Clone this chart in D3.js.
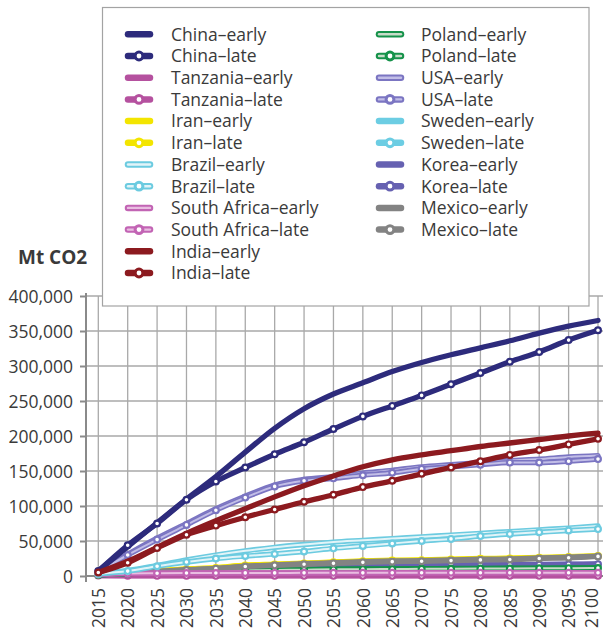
<!DOCTYPE html>
<html><head><meta charset="utf-8">
<script src="https://cdn.jsdelivr.net/npm/d3@7"></script>
<style>
body{margin:0;background:#fff;}
svg{display:block;}
text{font-family:"Open Sans",sans-serif;fill:#3a3a3a;}
</style>
</head><body>
<svg id="c" width="603" height="634"></svg>
<script>
// ---------- DATA ----------
const years = [2015,2020,2025,2030,2035,2040,2045,2050,2055,2060,2065,2070,2075,2080,2085,2090,2095,2100];
const yTicks = [0,50000,100000,150000,200000,250000,300000,350000,400000];

const chinaEarly = [7000,42000,76000,110000,142000,177000,211000,239000,260000,276000,292000,305000,316000,326000,336000,347000,357000,365000];
const chinaLate  = [7000,44000,75000,109000,135000,155000,174000,191000,210000,228000,243000,258000,274000,290000,306000,320000,337000,351000];
const tanzaniaEarly = [600,500,400,400,400,400,400,400,400,400,400,400,400,400,400,400,400,400];
const tanzaniaLate  = [600,300,200,200,200,200,200,200,200,200,200,200,200,200,200,200,200,200];
const iranEarly = [2500,5000,7500,10000,12000,15500,17000,18500,20000,21500,22500,23000,24000,25000,25500,26500,27500,29000];
const iranLate  = [2500,4800,7200,9800,11500,15000,16500,18000,19500,21000,22000,22500,23500,24500,25000,26000,27000,28500];
const brazilEarly = [3000,8000,15000,23000,30000,36000,41000,45000,48500,51000,53500,56000,58500,61000,63500,66000,68500,71500];
const brazilLate  = [3000,7000,14000,20000,25000,28500,31500,35000,39500,43000,46500,50000,53000,57000,60000,62500,65000,67000];
const southAfricaEarly = [2500,3800,4100,4300,4400,4500,4500,4600,4600,4600,4700,4700,4700,4700,4800,4800,4800,4800];
const southAfricaLate  = [2500,3700,4000,4200,4300,4400,4400,4500,4500,4500,4600,4600,4600,4600,4700,4700,4700,4700];
const indiaEarly = [5000,21000,41000,61000,79000,96000,113000,129000,143000,156000,166000,173000,179000,185000,190000,195000,200000,204000];
const indiaLate  = [5000,19000,40000,59000,72000,84000,95000,106000,116000,127000,136000,146000,155000,164000,173000,180000,188000,196000];
const polandEarly = [1800,3800,5300,6800,7800,8400,8900,9400,9800,10100,10300,10500,10700,10900,11100,11300,11500,11800];
const polandLate  = [1500,3500,5000,6500,7500,8000,8500,9000,9500,9800,10000,10200,10400,10600,10800,11000,11200,11500];
const usaEarly = [6000,31000,54000,75000,96000,114000,130000,138000,142000,147000,151000,156000,159000,162000,165000,167000,170000,172000];
const usaLate  = [6000,30000,52000,73000,94000,112000,128000,136000,139500,144000,147500,153000,156000,159000,162000,162000,164000,167000];
const swedenEarly = [2000,3000,3500,3800,4000,4100,4200,4200,4300,4300,4300,4400,4400,4400,4400,4500,4500,4500];
const swedenLate  = [2000,2900,3400,3700,3900,4000,4100,4100,4200,4200,4200,4300,4300,4300,4300,4400,4400,4400];
const koreaEarly = [1500,4000,6000,8000,9500,11000,12000,13000,13800,14400,14900,15300,15700,16000,16300,16600,16900,17200];
const koreaLate  = [1500,3800,5800,7800,9200,10700,11700,12700,13500,14100,14600,15000,15400,15700,16000,16300,16600,16900];
const mexicoEarly = [2000,4200,6500,9000,11000,14000,15800,17500,19000,20500,21500,22000,23000,24000,24500,25800,26800,28500];
const mexicoLate  = [2000,4000,6200,8600,10500,13500,15200,16700,18100,19500,20500,21000,22000,23000,23500,25000,26000,28000];

// ---------- SERIES STYLE ----------
const C = {china:"#2d2b7c", tanzania:"#b5519f", iran:"#f3e500", brazil:"#6ccbe0", sa:"#c264b4",
           india:"#8c1a1f", poland:"#15924a", usa:"#7b75c2", sweden:"#6ccde3", korea:"#6661b1", mexico:"#838383"};
const series = [
  {name:"China–early", vals:chinaEarly, color:C.china},
  {name:"China–late", vals:chinaLate, color:C.china, marker:true},
  {name:"Tanzania–early", vals:tanzaniaEarly, color:C.tanzania},
  {name:"Tanzania–late", vals:tanzaniaLate, color:C.tanzania, marker:true},
  {name:"Iran–early", vals:iranEarly, color:C.iran},
  {name:"Iran–late", vals:iranLate, color:C.iran, marker:true},
  {name:"Brazil–early", vals:brazilEarly, color:C.brazil, inner:"#e2f4f8"},
  {name:"Brazil–late", vals:brazilLate, color:C.brazil, inner:"#e2f4f8", marker:true},
  {name:"South Africa–early", vals:southAfricaEarly, color:C.sa, inner:"#e9bde1"},
  {name:"South Africa–late", vals:southAfricaLate, color:C.sa, inner:"#e9bde1", marker:true},
  {name:"India–early", vals:indiaEarly, color:C.india},
  {name:"India–late", vals:indiaLate, color:C.india, marker:true},
  {name:"Poland–early", vals:polandEarly, color:C.poland, inner:"#c8dcc8"},
  {name:"Poland–late", vals:polandLate, color:C.poland, inner:"#c8dcc8", marker:true},
  {name:"USA–early", vals:usaEarly, color:C.usa, inner:"#c2bee7"},
  {name:"USA–late", vals:usaLate, color:C.usa, inner:"#c2bee7", marker:true},
  {name:"Sweden–early", vals:swedenEarly, color:C.sweden},
  {name:"Sweden–late", vals:swedenLate, color:C.sweden, marker:true},
  {name:"Korea–early", vals:koreaEarly, color:C.korea},
  {name:"Korea–late", vals:koreaLate, color:C.korea, marker:true},
  {name:"Mexico–early", vals:mexicoEarly, color:C.mexico},
  {name:"Mexico–late", vals:mexicoLate, color:C.mexico, marker:true}
];
const drawOrder = ["Sweden–early","Sweden–late","Tanzania–early","Tanzania–late","Korea–early","Korea–late",
  "Poland–early","Poland–late","Iran–early","Iran–late","Mexico–early","Mexico–late",
  "South Africa–early","South Africa–late","Brazil–early","Brazil–late","USA–early","USA–late",
  "China–early","China–late","India–early","India–late"];

// ---------- SCALES ----------
const svg = d3.select("#c");
const x = d3.scalePoint().domain(years).range([98.3, 598]);
const y = d3.scaleLinear().domain([0,400000]).range([576, 296]);
const axisX = 86, plotRight = 603;

// gridlines
const g = svg.append("g");
g.selectAll("line.h").data(yTicks).join("line")
  .attr("x1", axisX).attr("x2", plotRight).attr("y1", d=>y(d)).attr("y2", d=>y(d))
  .attr("stroke","#a9a9a9").attr("stroke-width",1.3);
g.selectAll("line.v").data(years).join("line")
  .attr("x1", d=>x(d)).attr("x2", d=>x(d)).attr("y1", y(400000)).attr("y2", y(0))
  .attr("stroke","#a9a9a9").attr("stroke-width",1.3);

// axes via d3
const yAxis = d3.axisLeft(y).tickValues(yTicks).tickSize(6).tickFormat(d3.format(","));
const ya = svg.append("g").attr("transform",`translate(${axisX},0)`).call(yAxis);
ya.select(".domain").remove();
ya.selectAll(".tick line").attr("stroke","#8a8a8a").attr("stroke-width",2);
ya.selectAll(".tick text").attr("x",-13).attr("dy",null).attr("dominant-baseline",null)
  .attr("y",6.2).style("font-size","17.5px").style("font-family","'Open Sans',sans-serif").attr("fill","#3a3a3a");
svg.append("line").attr("x1",axisX).attr("x2",axisX).attr("y1",293).attr("y2",582)
  .attr("stroke","#8a8a8a").attr("stroke-width",2);

const xAxis = d3.axisBottom(x).tickSize(0);
const xa = svg.append("g").attr("transform",`translate(0,${y(0)})`).call(xAxis);
xa.select(".domain").remove();
xa.selectAll(".tick text")
  .attr("transform",(d)=>`translate(${d===2100?-1:6.2},12) rotate(-90)`).attr("y",0).attr("x",0).attr("dy",null)
  .attr("text-anchor","end").style("font-size","17.5px").style("font-family","'Open Sans',sans-serif").attr("fill","#3a3a3a");
svg.append("line").attr("x1",axisX-1).attr("x2",plotRight).attr("y1",y(0)).attr("y2",y(0))
  .attr("stroke","#8a8a8a").attr("stroke-width",2);

// lines
const line = d3.line().x((d,i)=>x(years[i])).y(d=>y(d)).curve(d3.curveMonotoneX);
const lg = svg.append("g");
drawOrder.forEach(nm=>{
  const s = series.find(t=>t.name===nm);
  lg.append("path").attr("d",line(s.vals)).attr("fill","none").attr("stroke",s.color)
    .attr("stroke-width",5.3).attr("stroke-linejoin","round").attr("stroke-linecap","round");
  if(s.inner){
    lg.append("path").attr("d",line(s.vals)).attr("fill","none").attr("stroke",s.inner)
      .attr("stroke-width",2).attr("stroke-linejoin","round").attr("stroke-linecap","round");
  }
  if(s.marker){
    lg.selectAll(null).data(s.vals).join("circle")
      .attr("cx",(d,i)=>x(years[i])).attr("cy",d=>y(d)).attr("r",2.9)
      .attr("fill","#fff").attr("stroke",s.color).attr("stroke-width",2.2);
  }
});

// legend box
svg.append("rect").attr("x",102.5).attr("y",7.5).attr("width",486.5).attr("height",298.5)
  .attr("fill","#fff").attr("stroke","#a3a3a3").attr("stroke-width",1.2);
const leg = svg.append("g");
series.forEach((s,idx)=>{
  const col = idx<12 ? 0 : 1;
  const row = idx<12 ? idx : idx-12;
  const sx = col===0 ? 125 : 376;
  const tx = col===0 ? 171 : 421;
  const cy = 34.3 + row*21.7;
  leg.append("line").attr("x1",sx+3).attr("x2",sx+25).attr("y1",cy).attr("y2",cy)
    .attr("stroke",s.color).attr("stroke-width",6.5).attr("stroke-linecap","round");
  if(s.inner){
    leg.append("line").attr("x1",sx+3).attr("x2",sx+25).attr("y1",cy).attr("y2",cy)
      .attr("stroke",s.inner).attr("stroke-width",2.4).attr("stroke-linecap","round");
  }
  if(s.marker){
    leg.append("circle").attr("cx",sx+14).attr("cy",cy).attr("r",3.9)
      .attr("fill","#fff").attr("stroke",s.color).attr("stroke-width",3);
  }
  leg.append("text").attr("x",tx).attr("y",cy+6.3).style("font-size","17.5px").text(s.name);
});

// axis title
svg.append("text").attr("x",18).attr("y",264).style("font-size","19px").style("font-weight","bold")
  .attr("fill","#2a2a2a").text("Mt CO2");
</script>
</body></html>
